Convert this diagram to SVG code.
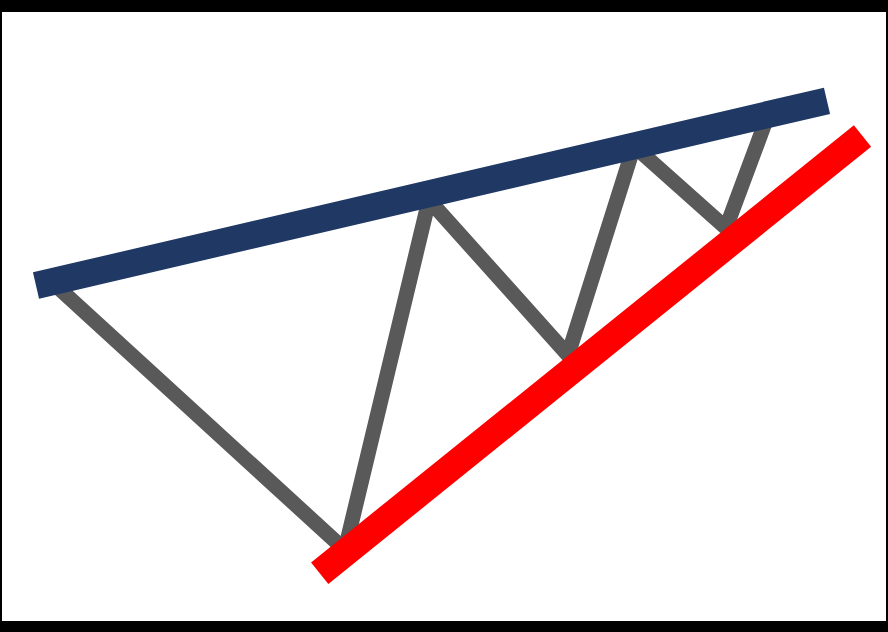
<svg xmlns="http://www.w3.org/2000/svg" width="888" height="632" viewBox="0 0 888 632">
  <style>
    .truss { fill: none; stroke: #595959; stroke-width: 15; stroke-linejoin: round; stroke-linecap: butt; }
    .top { stroke: #1F3864; stroke-width: 27; stroke-linecap: butt; }
    .bottom { stroke: #FF0000; stroke-width: 27.5; stroke-linecap: butt; }
  </style>
  <rect x="0" y="0" width="888" height="632" fill="#000000"/>
  <rect x="2" y="12" width="884" height="609" fill="#FFFFFF"/>
  <g id="connectors">
    <polyline class="truss" points="52,282 345,550 429,200 568,355 634,146 726,228 768,115"/>
  </g>
  <g id="top-line">
    <line class="top" x1="36" y1="285.5" x2="827" y2="100.8"/>
  </g>
  <g id="bottom-line">
    <line class="bottom" x1="319.7" y1="573.2" x2="862.5" y2="136"/>
  </g>
</svg>
